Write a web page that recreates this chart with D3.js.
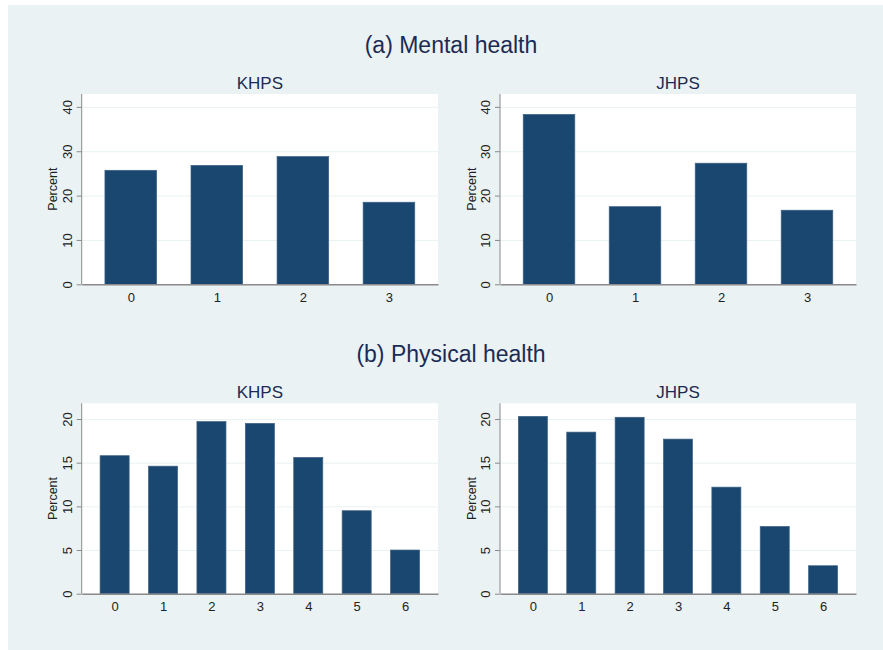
<!DOCTYPE html>
<html lang="en">
<head>
  <meta charset="UTF-8" />
  <title>Mental and physical health</title>
  <script src="https://cdn.jsdelivr.net/npm/d3@7"></script>
  <style>
    body { margin: 0; background: #fff; }
    svg { font-family: "Liberation Sans", Arial, sans-serif; display: block; }
    .grid line { stroke: #eaf2f3; stroke-width: 1; }
    .grid path { display: none; }
  </style>
</head>
<body>
  <svg id="chart" width="883" height="650"></svg>
  <script>
    // data
    let mentalCats = [0, 1, 2, 3];
    let mentalKHPS = [25.7, 26.8, 28.8, 18.5];
    let mentalJHPS = [38.3, 17.5, 27.3, 16.7];
    let mentalTicks = [0, 10, 20, 30, 40];

    let physCats = [0, 1, 2, 3, 4, 5, 6];
    let physKHPS = [15.8, 14.6, 19.7, 19.5, 15.6, 9.5, 5.0];
    let physJHPS = [20.3, 18.5, 20.2, 17.7, 12.2, 7.7, 3.2];
    let physTicks = [0, 5, 10, 15, 20];

    let svg = d3.select("#chart");
    let navy = "#1c2b55";

    // outer background
    svg.append("rect")
      .attr("x", 8).attr("y", 5)
      .attr("width", 875).attr("height", 645)
      .attr("fill", "#eaf2f3");

    // section titles
    svg.append("text")
      .attr("x", 451).attr("y", 52.5)
      .attr("text-anchor", "middle")
      .style("font-size", "23px")
      .style("fill", navy)
      .text("(a) Mental health");
    svg.append("text")
      .attr("x", 451).attr("y", 361.5)
      .attr("text-anchor", "middle")
      .style("font-size", "23px")
      .style("fill", navy)
      .text("(b) Physical health");

    function barPanel(cats, vals, ticks, yMax, pad, x0, x1, y0, y1, title) {
      let g = svg.append("g");
      let w = x1 - x0, h = y1 - y0;

      let x = d3.scaleLinear()
        .domain([cats[0] - pad, cats[cats.length - 1] + pad])
        .range([x0, x1]);
      let y = d3.scaleLinear().domain([0, yMax]).range([y1, y0]);
      let bw = (x(1) - x(0)) * 0.6;

      // plot region
      g.append("rect")
        .attr("x", x0).attr("y", y0)
        .attr("width", w).attr("height", h)
        .attr("fill", "#ffffff");

      // grid
      g.append("g")
        .attr("class", "grid")
        .attr("transform", "translate(" + x0 + ",0)")
        .call(d3.axisLeft(y).tickValues(ticks.slice(1)).tickSize(-w).tickFormat(""));

      // bars
      g.selectAll(".bar")
        .data(vals)
        .enter()
        .append("rect")
        .attr("class", "bar")
        .attr("x", (d, i) => x(cats[i]) - bw / 2)
        .attr("y", d => y(d))
        .attr("width", bw)
        .attr("height", d => y(0) - y(d))
        .attr("fill", "#1a476f")
        .attr("stroke", "#3d6184")
        .attr("stroke-width", 0.7);

      // y axis
      let ya = g.append("g")
        .attr("transform", "translate(" + x0 + ",0)")
        .call(d3.axisLeft(y).tickValues(ticks).tickSize(5).tickSizeOuter(0));
      ya.select(".domain").attr("stroke", "#8a8a8a").attr("d", "M0," + y0 + "V" + y1);
      ya.selectAll(".tick line").attr("stroke", "#8a8a8a");
      ya.selectAll(".tick text")
        .attr("x", 0).attr("dx", 0).attr("dy", 0)
        .attr("transform", "translate(-10,0) rotate(-90)")
        .attr("text-anchor", "middle")
        .style("font-size", "13px")
        .style("fill", "#222");

      // x axis
      let xa = g.append("g")
        .attr("transform", "translate(0," + y1 + ")")
        .call(d3.axisBottom(x).tickValues(cats).tickSize(0).tickSizeOuter(0).tickFormat(d3.format("d")));
      xa.select(".domain").attr("stroke", "#8a8a8a").attr("stroke-width", 1.4);
      xa.selectAll(".tick text")
        .attr("y", 17.5).attr("dy", 0)
        .style("font-size", "13px")
        .style("fill", "#222");

      // y label
      g.append("text")
        .attr("transform", "translate(" + (x0 - 24.5) + "," + (y0 + h / 2) + ") rotate(-90)")
        .attr("text-anchor", "middle")
        .style("font-size", "12.5px")
        .style("fill", "#222")
        .text("Percent");

      // panel title
      g.append("text")
        .attr("x", x0 + w / 2).attr("y", y0 - 5.5)
        .attr("text-anchor", "middle")
        .style("font-size", "17px")
        .style("fill", navy)
        .text(title);
    }

    barPanel(mentalCats, mentalKHPS, mentalTicks, 42.9, 0.57, 81.7, 438, 94, 284.3, "KHPS");
    barPanel(mentalCats, mentalJHPS, mentalTicks, 42.9, 0.57, 500, 856, 94, 284.3, "JHPS");
    barPanel(physCats, physKHPS, physTicks, 21.8, 0.68, 81.7, 438, 403.3, 593.7, "KHPS");
    barPanel(physCats, physJHPS, physTicks, 21.8, 0.68, 500, 856, 403.3, 593.7, "JHPS");
  </script>
</body>
</html>
